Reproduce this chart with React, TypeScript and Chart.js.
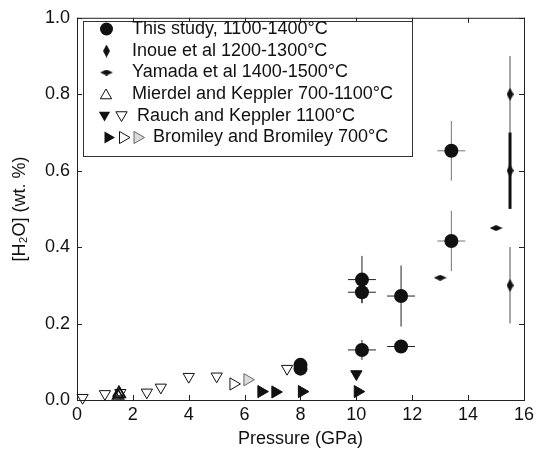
import React, { useEffect, useRef } from 'react';
import { Chart, registerables } from 'chart.js';

Chart.register(...registerables);

// ---- Data ----
const xTickValues = [0, 2, 4, 6, 8, 10, 12, 14, 16];
const yTickValues = [0, 0.2, 0.4, 0.6, 0.8, 1.0];

// This study, 1100-1400°C
const studyP = [8.0, 8.0, 10.2, 10.2, 10.2, 11.6, 11.6, 13.4, 13.4];
const studyH2O = [0.092, 0.082, 0.315, 0.282, 0.131, 0.272, 0.14, 0.652, 0.416];
const studyPErr = [0, 0, 0.5, 0.5, 0.5, 0.5, 0.5, 0.5, 0.5];
const studyH2OErr = [0.012, 0.012, 0.062, 0.028, 0.026, 0.08, 0, 0.078, 0.079];

// Inoue et al 1200-1300°C
const inoueP = [15.5, 15.5, 15.5];
const inoueH2O = [0.8, 0.6, 0.3];
const inoueH2OErr = [0.1, 0.1, 0.1];

// Yamada et al 1400-1500°C
const yamadaP = [13.0, 15.0];
const yamadaH2O = [0.32, 0.45];

// Mierdel and Keppler 700-1100°C
const mierdelP = [1.47, 1.5, 1.53];
const mierdelH2O = [0.011, 0.019, 0.015];

// Rauch and Keppler 1100°C
const rauchOpenP = [0.2, 1.0, 1.55, 2.5, 3.0, 4.0, 5.0, 7.52];
const rauchOpenH2O = [0.006, 0.016, 0.019, 0.02, 0.033, 0.061, 0.062, 0.082];
const rauchFilledP = [10.0];
const rauchFilledH2O = [0.068];

// Bromiley and Bromiley 700°C
const bromFilledP = [6.6, 7.1, 8.05, 10.05];
const bromFilledH2O = [0.022, 0.021, 0.022, 0.022];
const bromOpenP = [5.6];
const bromOpenH2O = [0.042];
const bromGrayP = [6.1];
const bromGrayH2O = [0.053];

const legendLabels = [
  'This study, 1100-1400°C',
  'Inoue et al 1200-1300°C',
  'Yamada et al 1400-1500°C',
  'Mierdel and Keppler 700-1100°C',
  'Rauch and Keppler 1100°C',
  'Bromiley and Bromiley 700°C',
];

const FONT = '"Liberation Sans", Arial, Helvetica, sans-serif';

function zip(xs: number[], ys: number[]) {
  return xs.map((x, i) => ({ x, y: ys[i] }));
}

function makeDiamond(w: number, h: number, color: string) {
  const c = document.createElement('canvas');
  c.width = w;
  c.height = h;
  const ctx = c.getContext('2d')!;
  ctx.fillStyle = color;
  ctx.beginPath();
  ctx.moveTo(w / 2, 0);
  ctx.lineTo(w, h / 2);
  ctx.lineTo(w / 2, h);
  ctx.lineTo(0, h / 2);
  ctx.closePath();
  ctx.fill();
  return c;
}

function triPath(ctx: CanvasRenderingContext2D, x: number, y: number, r: number, rotDeg: number) {
  const rot = (rotDeg * Math.PI) / 180;
  ctx.beginPath();
  for (let k = 0; k < 3; k++) {
    const a = rot + (k * 2 * Math.PI) / 3;
    const px = x + Math.sin(a) * r;
    const py = y - Math.cos(a) * r;
    if (k === 0) ctx.moveTo(px, py);
    else ctx.lineTo(px, py);
  }
  ctx.closePath();
}

const errorBarPlugin = {
  id: 'errorBars',
  beforeDatasetsDraw(chart: any) {
    const { ctx } = chart;
    const xs = chart.scales.x;
    const ys = chart.scales.y;
    chart.data.datasets.forEach((ds: any) => {
      const eb = ds.errorBars;
      if (!eb) return;
      ds.data.forEach((pt: any, i: number) => {
        const px = xs.getPixelForValue(pt.x);
        const py = ys.getPixelForValue(pt.y);
        const ex = eb.x ? eb.x[i] : 0;
        const ey = eb.y ? eb.y[i] : 0;
        ctx.save();
        ctx.lineCap = 'butt';
        if (ex) {
          ctx.strokeStyle = eb.xColors ? eb.xColors[i] : eb.color;
          ctx.lineWidth = 1;
          ctx.beginPath();
          ctx.moveTo(xs.getPixelForValue(pt.x - ex), py);
          ctx.lineTo(xs.getPixelForValue(pt.x + ex), py);
          ctx.stroke();
        }
        if (ey) {
          ctx.strokeStyle = eb.yColors ? eb.yColors[i] : eb.color;
          ctx.lineWidth = eb.yWidths ? eb.yWidths[i] : 1;
          ctx.beginPath();
          ctx.moveTo(px, ys.getPixelForValue(pt.y - ey));
          ctx.lineTo(px, ys.getPixelForValue(pt.y + ey));
          ctx.stroke();
        }
        ctx.restore();
      });
    });
  },
};

const frameTickPlugin = {
  id: 'frameTicks',
  beforeDatasetsDraw(chart: any) {
    const { ctx, chartArea } = chart;
    const xs = chart.scales.x;
    const ys = chart.scales.y;
    const { left, right, top, bottom } = chartArea;
    const L = 5;
    ctx.save();
    ctx.strokeStyle = '#222';
    ctx.lineWidth = 1;
    ctx.strokeRect(left + 0.5, top + 0.5, right - left, bottom - top);
    ctx.beginPath();
    xTickValues.forEach((v) => {
      const p = Math.round(xs.getPixelForValue(v)) + 0.5;
      ctx.moveTo(p, bottom);
      ctx.lineTo(p, bottom - L);
      ctx.moveTo(p, top);
      ctx.lineTo(p, top + L);
    });
    yTickValues.forEach((v) => {
      const p = Math.round(ys.getPixelForValue(v)) + 0.5;
      ctx.moveTo(left, p);
      ctx.lineTo(left + L, p);
      ctx.moveTo(right, p);
      ctx.lineTo(right - L, p);
    });
    ctx.stroke();
    ctx.restore();
  },
};

function makeLegendPlugin(vDiamond: HTMLCanvasElement, hDiamond: HTMLCanvasElement) {
  return {
    id: 'customLegend',
    afterDatasetsDraw(chart: any) {
      const { ctx } = chart;
      const bx = 83.5, by = 21.5, bw = 329, bh = 135;
      ctx.save();
      ctx.fillStyle = '#fff';
      ctx.fillRect(bx, by, bw, bh);
      ctx.strokeStyle = '#333';
      ctx.lineWidth = 1;
      ctx.strokeRect(bx, by, bw, bh);

      const rows = [29, 51, 72.5, 94.5, 116, 137.5];
      const textX = [132, 132, 132, 132, 137, 153];
      ctx.font = '18px ' + FONT;
      ctx.fillStyle = '#111';
      ctx.textBaseline = 'middle';
      ctx.textAlign = 'left';
      legendLabels.forEach((t, i) => ctx.fillText(t, textX[i], rows[i]));

      // markers
      ctx.fillStyle = '#111';
      ctx.strokeStyle = '#111';
      // circle
      ctx.beginPath();
      ctx.arc(106.5, rows[0], 6.5, 0, Math.PI * 2);
      ctx.fill();
      // diamonds
      ctx.drawImage(vDiamond, 106.5 - vDiamond.width / 2, rows[1] - vDiamond.height / 2);
      ctx.drawImage(hDiamond, 106.5 - hDiamond.width / 2, rows[2] - hDiamond.height / 2);
      // Mierdel open up triangle
      ctx.lineWidth = 1;
      triPath(ctx, 106, rows[3] + 1, 6.5, 0);
      ctx.stroke();
      // Rauch filled + open down
      triPath(ctx, 104.5, rows[4] - 1, 6.5, 180);
      ctx.fill();
      triPath(ctx, 121.5, rows[4] - 1, 6.5, 180);
      ctx.stroke();
      // Bromiley filled, open, gray right triangles
      triPath(ctx, 108, rows[5], 7, 90);
      ctx.fill();
      triPath(ctx, 123, rows[5], 7, 90);
      ctx.stroke();
      ctx.fillStyle = '#dcdcdc';
      ctx.strokeStyle = '#666';
      triPath(ctx, 137.5, rows[5], 7, 90);
      ctx.fill();
      ctx.stroke();
      ctx.restore();
    },
  };
}

export default function App() {
  const ref = useRef<HTMLCanvasElement | null>(null);

  useEffect(() => {
    if (!ref.current) return;
    const vDiamond = makeDiamond(7, 13, '#111');
    const hDiamond = makeDiamond(13, 6, '#111');
    const black = '#111';
    const clear = 'rgba(0,0,0,0)';

    const datasets: any[] = [
      {
        label: 'Rauch open',
        data: zip(rauchOpenP, rauchOpenH2O),
        pointStyle: 'triangle',
        rotation: 180,
        pointRadius: 6.5,
        backgroundColor: clear,
        borderColor: black,
        borderWidth: 1,
      },
      {
        label: 'Mierdel',
        data: zip(mierdelP, mierdelH2O),
        pointStyle: 'triangle',
        pointRadius: 6.5,
        backgroundColor: clear,
        borderColor: black,
        borderWidth: 1.5,
      },
      {
        label: 'Bromiley open',
        data: zip(bromOpenP, bromOpenH2O),
        pointStyle: 'triangle',
        rotation: 90,
        pointRadius: 7,
        backgroundColor: '#fff',
        borderColor: black,
        borderWidth: 1,
      },
      {
        label: 'Bromiley gray',
        data: zip(bromGrayP, bromGrayH2O),
        pointStyle: 'triangle',
        rotation: 90,
        pointRadius: 7,
        backgroundColor: '#dcdcdc',
        borderColor: '#666',
        borderWidth: 1,
      },
      {
        label: 'Bromiley filled',
        data: zip(bromFilledP, bromFilledH2O),
        pointStyle: 'triangle',
        rotation: 90,
        pointRadius: 7,
        backgroundColor: black,
        borderColor: black,
        borderWidth: 1,
      },
      {
        label: 'Rauch filled',
        data: zip(rauchFilledP, rauchFilledH2O),
        pointStyle: 'triangle',
        rotation: 180,
        pointRadius: 6.5,
        backgroundColor: black,
        borderColor: black,
        borderWidth: 1,
      },
      {
        label: 'Yamada',
        data: zip(yamadaP, yamadaH2O),
        pointStyle: hDiamond,
        pointRadius: 6,
      },
      {
        label: 'Inoue',
        data: zip(inoueP, inoueH2O),
        pointStyle: vDiamond,
        pointRadius: 6,
        errorBars: {
          y: inoueH2OErr,
          color: '#808080',
          yColors: ['#8a8a8a', '#111', '#8a8a8a'],
          yWidths: [1.5, 3, 1.5],
        },
      },
      {
        label: 'This study',
        data: zip(studyP, studyH2O),
        pointStyle: 'circle',
        pointRadius: 7,
        backgroundColor: black,
        borderColor: black,
        borderWidth: 0,
        errorBars: {
          x: studyPErr,
          y: studyH2OErr,
          color: '#111',
          xColors: ['#111', '#111', '#222', '#222', '#222', '#222', '#222', '#777', '#777'],
          yColors: ['#111', '#111', '#222', '#222', '#222', '#222', '#222', '#777', '#777'],
        },
      },
    ];
    datasets.forEach((d) => {
      d.showLine = false;
      d.clip = false;
      d.pointHoverRadius = d.pointRadius;
    });

    const tickFont = { family: FONT, size: 18 };

    const chart = new Chart(ref.current, {
      type: 'scatter',
      data: { datasets },
      options: {
        responsive: false,
        animation: false,
        events: [],
        layout: { padding: { left: 0, right: 12, top: 16, bottom: 0 } },
        plugins: {
          legend: { display: false },
          tooltip: { enabled: false },
        },
        scales: {
          x: {
            type: 'linear',
            min: 0,
            max: 16,
            afterBuildTicks: (scale: any) => {
              scale.ticks = xTickValues.map((v) => ({ value: v }));
            },
            ticks: {
              font: tickFont,
              color: '#111',
              padding: 4,
              maxRotation: 0,
              callback: (v: any) => String(v),
            },
            grid: { display: false, drawTicks: false },
            border: { display: false },
            title: {
              display: true,
              text: 'Pressure (GPa)',
              font: tickFont,
              color: '#111',
              padding: { top: 0, bottom: 2 },
            },
            afterFit: (scale: any) => {
              scale.height = 52;
            },
          },
          y: {
            type: 'linear',
            min: 0,
            max: 1,
            afterBuildTicks: (scale: any) => {
              scale.ticks = yTickValues.map((v) => ({ value: v }));
            },
            ticks: {
              font: tickFont,
              color: '#111',
              padding: 7,
              callback: (v: any) => Number(v).toFixed(1),
            },
            grid: { display: false, drawTicks: false },
            border: { display: false },
            title: {
              display: true,
              text: '[H₂O] (wt. %)',
              font: tickFont,
              color: '#111',
              padding: { top: 9, bottom: 0 },
            },
            afterFit: (scale: any) => {
              scale.width = 77;
            },
          },
        },
      } as any,
      plugins: [frameTickPlugin, errorBarPlugin, makeLegendPlugin(vDiamond, hDiamond)],
    });

    return () => chart.destroy();
  }, []);

  return (
    <canvas
      ref={ref}
      width={538}
      height={452}
      style={{ position: 'absolute', left: 0, top: 0, width: 538, height: 452 }}
    />
  );
}
